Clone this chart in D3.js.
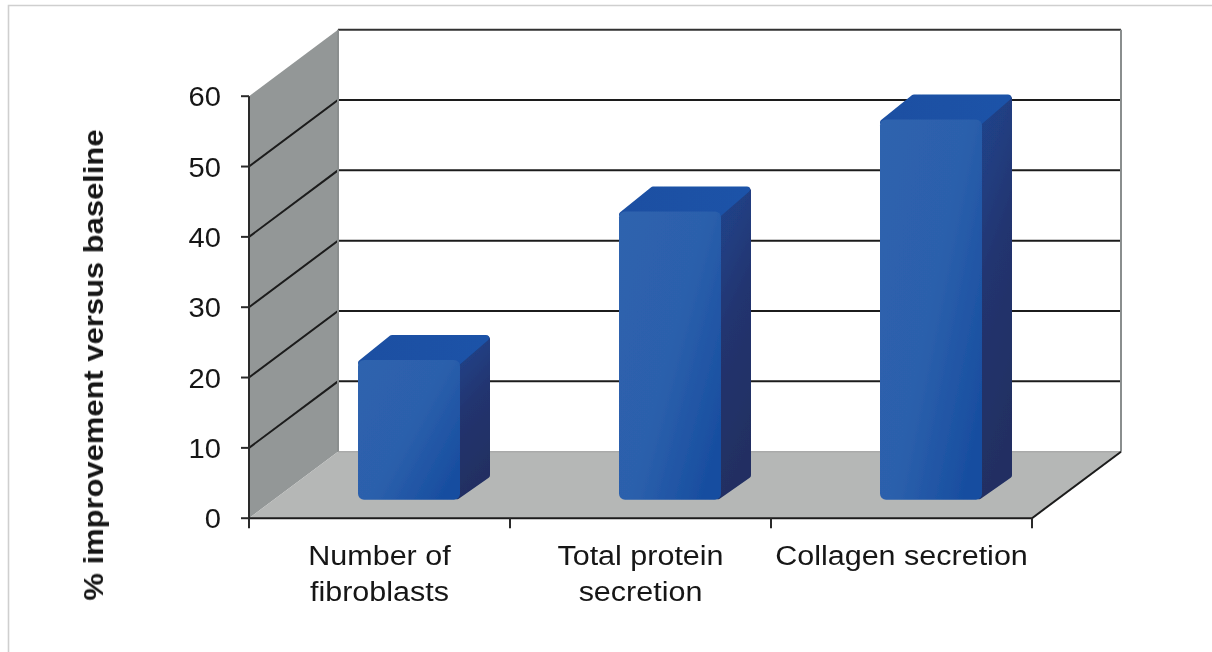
<!DOCTYPE html>
<html><head><meta charset="utf-8">
<script src="https://cdn.jsdelivr.net/npm/d3@7"></script>
<style>html,body{margin:0;padding:0;background:#fff}svg{display:block}text{font-family:"Liberation Sans",Arial,sans-serif;fill:#161616}</style>
</head><body><svg id="c" width="1212" height="652"></svg>
<script>
const categories=[["Number of","fibroblasts"],["Total protein","secretion"],["Collagen secretion"]];
const values=[19.8,40.9,54];
const yTicks=[0,10,20,30,40,50,60];
const yTitle="% improvement versus baseline";

const svg=d3.select("#c");
const y=d3.scaleLinear().domain([0,60]).range([518.2,96.2]);
const x=d3.scaleBand().domain(d3.range(categories.length)).range([249,1032]);
const depth={dx:89,dy:-66.5};
const barDepth={dx:30,dy:-25};
const barBase=19;
const barShift=29.5;
const line=d3.line();

const defs=svg.append("defs");
const grad=(id,stops,x2,y2)=>{const g=defs.append("linearGradient").attr("id",id).attr("x1",0).attr("y1",0).attr("x2",x2).attr("y2",y2);
  stops.forEach(([o,c])=>g.append("stop").attr("offset",o).attr("stop-color",c));};
grad("front",[[0,"#2e63ae"],[0.55,"#2c60ac"],[1,"#184ea0"]],1,0.75);
grad("side",[[0,"#1f468f"],[0.5,"#21346f"],[1,"#202f62"]],0.2,1);
grad("top",[[0,"#1d50a2"],[1,"#1c52a8"]],1,0);
defs.append("filter").attr("id","soft").append("feGaussianBlur").attr("stdDeviation",0.6);
defs.append("filter").attr("id","softText").append("feGaussianBlur").attr("stdDeviation",0.35);

const root=svg.append("g").attr("filter","url(#soft)");
svg.append("path").attr("d",line([[8.5,652],[8.5,5.5],[1212,5.5]])).attr("fill","none").attr("stroke","#cfcfcf").attr("stroke-width",1.6);

const x0=x.range()[0],x1=x.range()[1];
root.append("path").attr("d",line([[x0,y(60)],[x0+depth.dx,y(60)+depth.dy],[x0+depth.dx,y(0)+depth.dy],[x0,y(0)]])+"Z").attr("fill","#939797");
root.append("path").attr("d",line([[x0,y(0)],[x1,y(0)],[x1+depth.dx,y(0)+depth.dy],[x0+depth.dx,y(0)+depth.dy]])+"Z").attr("fill","#b5b7b6");

yTicks.filter(d=>d>0&&d<60).forEach(d=>{
  root.append("path").attr("d",line([[x0,y(d)],[x0+depth.dx,y(d)+depth.dy],[x1+depth.dx,y(d)+depth.dy]]))
    .attr("fill","none").attr("stroke","#1c1c1c").attr("stroke-width",2);
});
root.append("path").attr("d",line([[x0+depth.dx,y(60)+depth.dy],[x1+depth.dx,y(60)+depth.dy]])).attr("stroke","#333").attr("stroke-width",2).attr("fill","none");
root.append("path").attr("d",line([[x1+depth.dx,y(60)+depth.dy],[x1+depth.dx,y(0)+depth.dy]])).attr("stroke","#8a8e8e").attr("stroke-width",2).attr("fill","none");
root.append("path").attr("d",line([[x0+depth.dx,y(60)+depth.dy],[x0+depth.dx,y(0)+depth.dy]])).attr("stroke","#8a8e8e").attr("stroke-width",2).attr("fill","none");
root.append("path").attr("d",line([[x0+depth.dx,y(0)+depth.dy],[x1+depth.dx,y(0)+depth.dy]])).attr("stroke","#9a9c9c").attr("stroke-width",1).attr("fill","none");

root.append("path").attr("d",line([[x0,y(60)],[x0,y(0)]])).attr("stroke","#2a2a2a").attr("stroke-width",2);
root.append("path").attr("d",line([[x0,y(0)],[x1,y(0)],[x1+depth.dx,y(0)+depth.dy]])).attr("stroke","#1c1c1c").attr("stroke-width",2).attr("fill","none");
root.selectAll(".yt").data(yTicks).join("path").attr("d",d=>line([[x0-8,y(d)],[x0,y(d)]])).attr("stroke","#2a2a2a").attr("stroke-width",2);
root.selectAll(".xt").data(d3.range(categories.length+1)).join("path")
  .attr("d",d=>{const px=x0+x.step()*d;return line([[px,y(0)],[px,y(0)+10]]);}).attr("stroke","#2a2a2a").attr("stroke-width",2);

const bw=102;
root.selectAll(".bar").data(values).join("g").each(function(v,i){
  const g=d3.select(this);
  const left=x(i)+x.bandwidth()/2+barShift-bw/2;
  const right=left+bw;
  const bot=y(0)-barBase, top=y(0)-barBase-(y(0)-y(v));
  const d=barDepth;
  g.append("path").attr("d",line([[right-3,top+3],[right+d.dx-3,top+d.dy+4],[right+d.dx-3,bot+d.dy+1],[right-3,bot-3]])+"Z")
    .attr("fill","url(#side)").attr("stroke","url(#side)").attr("stroke-width",6).attr("stroke-linejoin","round");
  g.append("path").attr("d",line([[left+3,top+3],[left+d.dx+4,top+d.dy+3],[right+d.dx-4,top+d.dy+3],[right-3,top+3]])+"Z")
    .attr("fill","url(#top)").attr("stroke","url(#top)").attr("stroke-width",6).attr("stroke-linejoin","round");
  g.append("rect").attr("x",left).attr("y",top).attr("width",bw).attr("height",bot-top+0.5).attr("rx",6)
    .attr("fill","url(#front)");
});

const txt=svg.append("g").attr("filter","url(#softText)");
txt.selectAll(".yl").data(yTicks).join("text").attr("text-anchor","end")
  .attr("transform",d=>`translate(${x0-28},${y(d)+10}) scale(1.04,1)`)
  .attr("font-size",28).text(d=>d);
const lineGap=36;
categories.forEach((lines,i)=>{
  const cx=x(i)+x.bandwidth()/2;
  lines.forEach((s,k)=>txt.append("text").attr("font-size",28).attr("text-anchor","middle")
    .attr("transform",`translate(${cx},${565+k*lineGap}) scale(1.09,1)`).text(s));
});
txt.append("text").attr("transform","translate(103,365) rotate(-90) scale(1.105,1)").attr("text-anchor","middle").attr("font-size",28).attr("font-weight","bold").text(yTitle);
</script></body></html>
